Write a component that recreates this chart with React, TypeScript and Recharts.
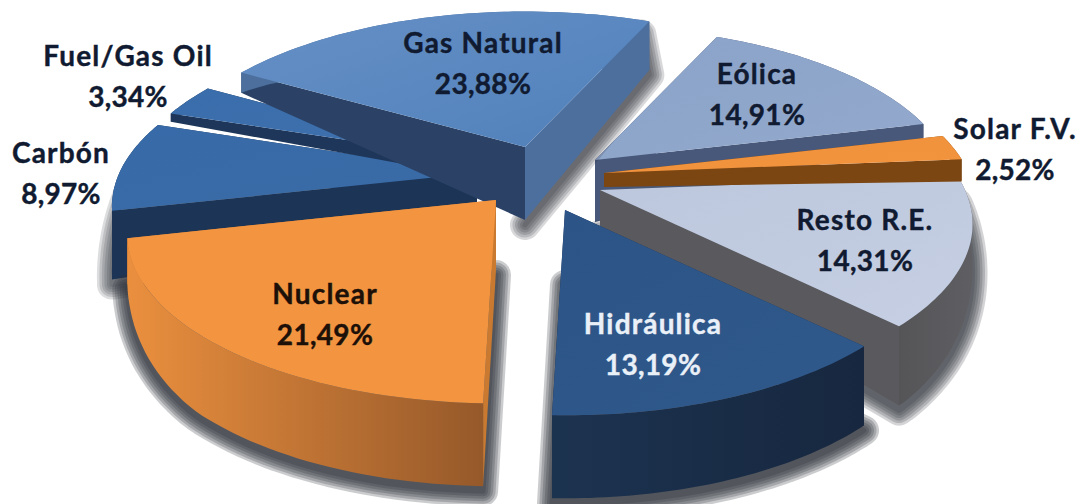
import { Pie, PieChart } from 'recharts'

const categories = ['Eólica', 'Solar F.V.', 'Resto R.E.', 'Hidráulica', 'Nuclear', 'Carbón', 'Fuel/Gas Oil', 'Gas Natural']
const shares = [14.91, 2.52, 14.31, 13.19, 21.49, 8.97, 3.34, 23.88]

// back to front, the painter's order of the exploded slices
const drawOrder = ['Eólica', 'Resto R.E.', 'Solar F.V.', 'Hidráulica', 'Carbón', 'Fuel/Gas Oil', 'Gas Natural', 'Nuclear']

const chartData = categories.map((name, i) => ({ name, value: shares[i] }))

const WIDTH = 1078
const HEIGHT = 504
const CX = 540
const CY = 175
const RADIUS = 365
const TILT = 0.45 // vertical squash of the disk
const PERSPECTIVE = 0.2 // front of the pie is bigger than the back
const SHADOW_WIDTHS = [30, 25, 20, 15, 10, 5]

interface SliceStyle {
  dx: number
  dy: number
  scale: number
  apexDepth: number
  edgeScale: number
  top: string[]
  startWall: string
  endWall: string
  outer: string[]
  shadow: number
  shadowEdgeOnly?: boolean
}

const sliceStyles: Record<string, SliceStyle> = {
  'Eólica': { dx: 55, dy: -15, scale: 0.97, apexDepth: 62, edgeScale: 1, top: ['#8ba3c9', '#93a9cd'], startWall: '#48587a', endWall: '#48587a', outer: ['#48587a', '#48587a'], shadow: 0 },
  'Solar F.V.': { dx: 64, dy: -2, scale: 1, apexDepth: 14, edgeScale: 1, top: ['#f0913c', '#f2933e'], startWall: '#7b4612', endWall: '#7b4612', outer: ['#7b4612', '#7b4612'], shadow: 0 },
  'Resto R.E.': { dx: 60, dy: 15, scale: 1, apexDepth: 40, edgeScale: 1, top: ['#bcc7dd', '#c6cfe3'], startWall: '#5a5a5e', endWall: '#5a5a5e', outer: ['#5f5f63', '#555558'], shadow: 0.5 },
  'Hidráulica': { dx: 25, dy: 35, scale: 1, apexDepth: 70, edgeScale: 1, top: ['#2c5487', '#30598b'], startWall: '#1b2f4d', endWall: '#1b2f4d', outer: ['#17273f', '#1c3350'], shadow: 0.6 },
  'Nuclear': { dx: -44, dy: 25, scale: 0.99, apexDepth: 70, edgeScale: 1, top: ['#f29440', '#f29440'], startWall: '#c97a30', endWall: '#c97a30', outer: ['#96592a', '#ea8f3e'], shadow: 0.6 },
  'Carbón': { dx: -63, dy: -2, scale: 0.98, apexDepth: 50, edgeScale: 1.5, top: ['#376aa8', '#3a6ba6'], startWall: '#1c3557', endWall: '#1c3557', outer: ['#1c3557', '#1c3557'], shadow: 0.4 },
  'Fuel/Gas Oil': { dx: -60, dy: -15, scale: 0.95, apexDepth: 18, edgeScale: 0.6, top: ['#3a6dab', '#3f71ae'], startWall: '#1e3659', endWall: '#1e3659', outer: ['#1e3659', '#1e3659'], shadow: 0 },
  'Gas Natural': { dx: -15, dy: -28, scale: 0.99, apexDepth: 73, edgeScale: 1, top: ['#6690c6', '#5080ba'], startWall: '#2b4266', endWall: '#4c6f9e', outer: ['#4c6f9e', '#4c6f9e'], shadow: 0.45, shadowEdgeOnly: true },
}

const labelStyles: Record<string, { x: number; y: number; color: string }> = {
  'Eólica': { x: 757, y: 84, color: '#101a30' },
  'Solar F.V.': { x: 1015, y: 139, color: '#101a30' },
  'Resto R.E.': { x: 865, y: 230, color: '#101a30' },
  'Hidráulica': { x: 653, y: 334, color: '#eaf0f7' },
  'Nuclear': { x: 325, y: 304, color: '#1c1008' },
  'Carbón': { x: 61, y: 163, color: '#101a30' },
  'Fuel/Gas Oil': { x: 128, y: 66, color: '#101a30' },
  'Gas Natural': { x: 483, y: 53, color: '#101a30' },
}

// clockwise-from-top disk coordinates for a recharts angle
function disk(angle: number) {
  const t = ((90 - angle) * Math.PI) / 180
  return { u: Math.sin(t), v: Math.cos(t) }
}

function rimDepth(u: number, v: number, scale: number) {
  const side = Math.max(0, Math.min(58, (v + 0.7) * 60))
  return Math.max(6, (70 - 13 * v - side * u * u) * scale)
}

function Slice(props: any) {
  const name = props.payload?.name ?? props.name
  const style = sliceStyles[name]
  const { cx, cy, outerRadius, startAngle, endAngle } = props
  const ax = cx + style.dx
  const ay = cy + style.dy
  const radius = outerRadius * style.scale

  const rim: { x: number; y: number; d: number }[] = []
  const steps = 48
  for (let i = 0; i <= steps; i++) {
    const { u, v } = disk(startAngle + ((endAngle - startAngle) * i) / steps)
    const p = 1 / (1 + PERSPECTIVE * v)
    rim.push({
      x: ax + radius * u * p,
      y: ay - radius * TILT * v * p,
      d: rimDepth(u, v, style.edgeScale),
    })
  }
  const first = rim[0]
  const last = rim[rim.length - 1]
  const line = (pts: { x: number; y: number }[]) => pts.map((q) => `${q.x.toFixed(1)},${q.y.toFixed(1)}`).join(' ')
  const lower = rim.map((q) => ({ x: q.x, y: q.y + q.d }))
  const apex = { x: ax, y: ay }
  const apexLow = { x: ax, y: ay + style.apexDepth }
  const id = name.replace(/[^a-zA-Z]/g, '')
  const shadowPts = style.shadowEdgeOnly
    ? [apexLow, lower[lower.length - 1], { x: last.x - 8, y: last.y + 8 }]
    : [apexLow, ...lower]

  return (
    <g>
      <defs>
        <linearGradient id={`top${id}`} x1="0" y1="0" x2="1" y2="1">
          <stop offset="0" stopColor={style.top[0]} />
          <stop offset="1" stopColor={style.top[1]} />
        </linearGradient>
        <linearGradient id={`outer${id}`} x1="0" y1="0" x2="1" y2="0">
          <stop offset="0" stopColor={style.outer[1]} />
          <stop offset="1" stopColor={style.outer[0]} />
        </linearGradient>
      </defs>
      {style.shadow > 0 &&
        SHADOW_WIDTHS.map((w) => (
          <polygon
            key={w}
            points={line(shadowPts)}
            fill="#2c3038"
            stroke="#2c3038"
            strokeWidth={w}
            strokeLinejoin="round"
            opacity={style.shadow / 2.5}
            transform="translate(0 5)"
          />
        ))}
      <polygon points={line([apex, last, { x: last.x, y: last.y + last.d }, apexLow])} fill={style.endWall} />
      <polygon points={line([apex, first, { x: first.x, y: first.y + first.d }, apexLow])} fill={style.startWall} />
      <polygon points={line([...rim, ...[...lower].reverse()])} fill={`url(#outer${id})`} />
      <polygon points={line([apex, ...rim])} fill={`url(#top${id})`} />
    </g>
  )
}

function SliceLabel(props: any) {
  const name = props.payload?.name ?? props.name
  const pos = labelStyles[name]
  const value = String(props.value.toFixed(2)).replace('.', ',')
  return (
    <text
      textAnchor="middle"
      fontFamily="Lato, 'Open Sans', sans-serif"
      fontWeight={700}
      fontSize={28}
      fill={pos.color}
      stroke={pos.color}
      strokeWidth={0.4}
    >
      <tspan x={pos.x} y={pos.y} letterSpacing={1.2}>{name}</tspan>
      <tspan x={pos.x} y={pos.y + 41} letterSpacing={0.3}>{value}%</tspan>
    </text>
  )
}

export default function App() {
  const pieProps = {
    data: chartData,
    dataKey: 'value',
    nameKey: 'name',
    cx: CX,
    cy: CY,
    outerRadius: RADIUS,
    innerRadius: 0,
    startAngle: 66,
    endAngle: -294,
    stroke: 'none',
    isAnimationActive: false,
  }
  return (
    <div style={{ position: 'absolute', left: 0, top: 0, width: WIDTH, height: HEIGHT, background: '#fff', overflow: 'hidden' }}>
      <PieChart width={WIDTH} height={HEIGHT} margin={{ top: 0, right: 0, bottom: 0, left: 0 }}>
        {drawOrder.map((only) => (
          <Pie
            key={only}
            {...pieProps}
            shape={(p: any) => ((p.payload?.name ?? p.name) === only ? <Slice {...p} /> : <g />)}
          />
        ))}
        <Pie key="labels" {...pieProps} shape={() => <g />} label={SliceLabel} labelLine={false} />
      </PieChart>
    </div>
  )
}
